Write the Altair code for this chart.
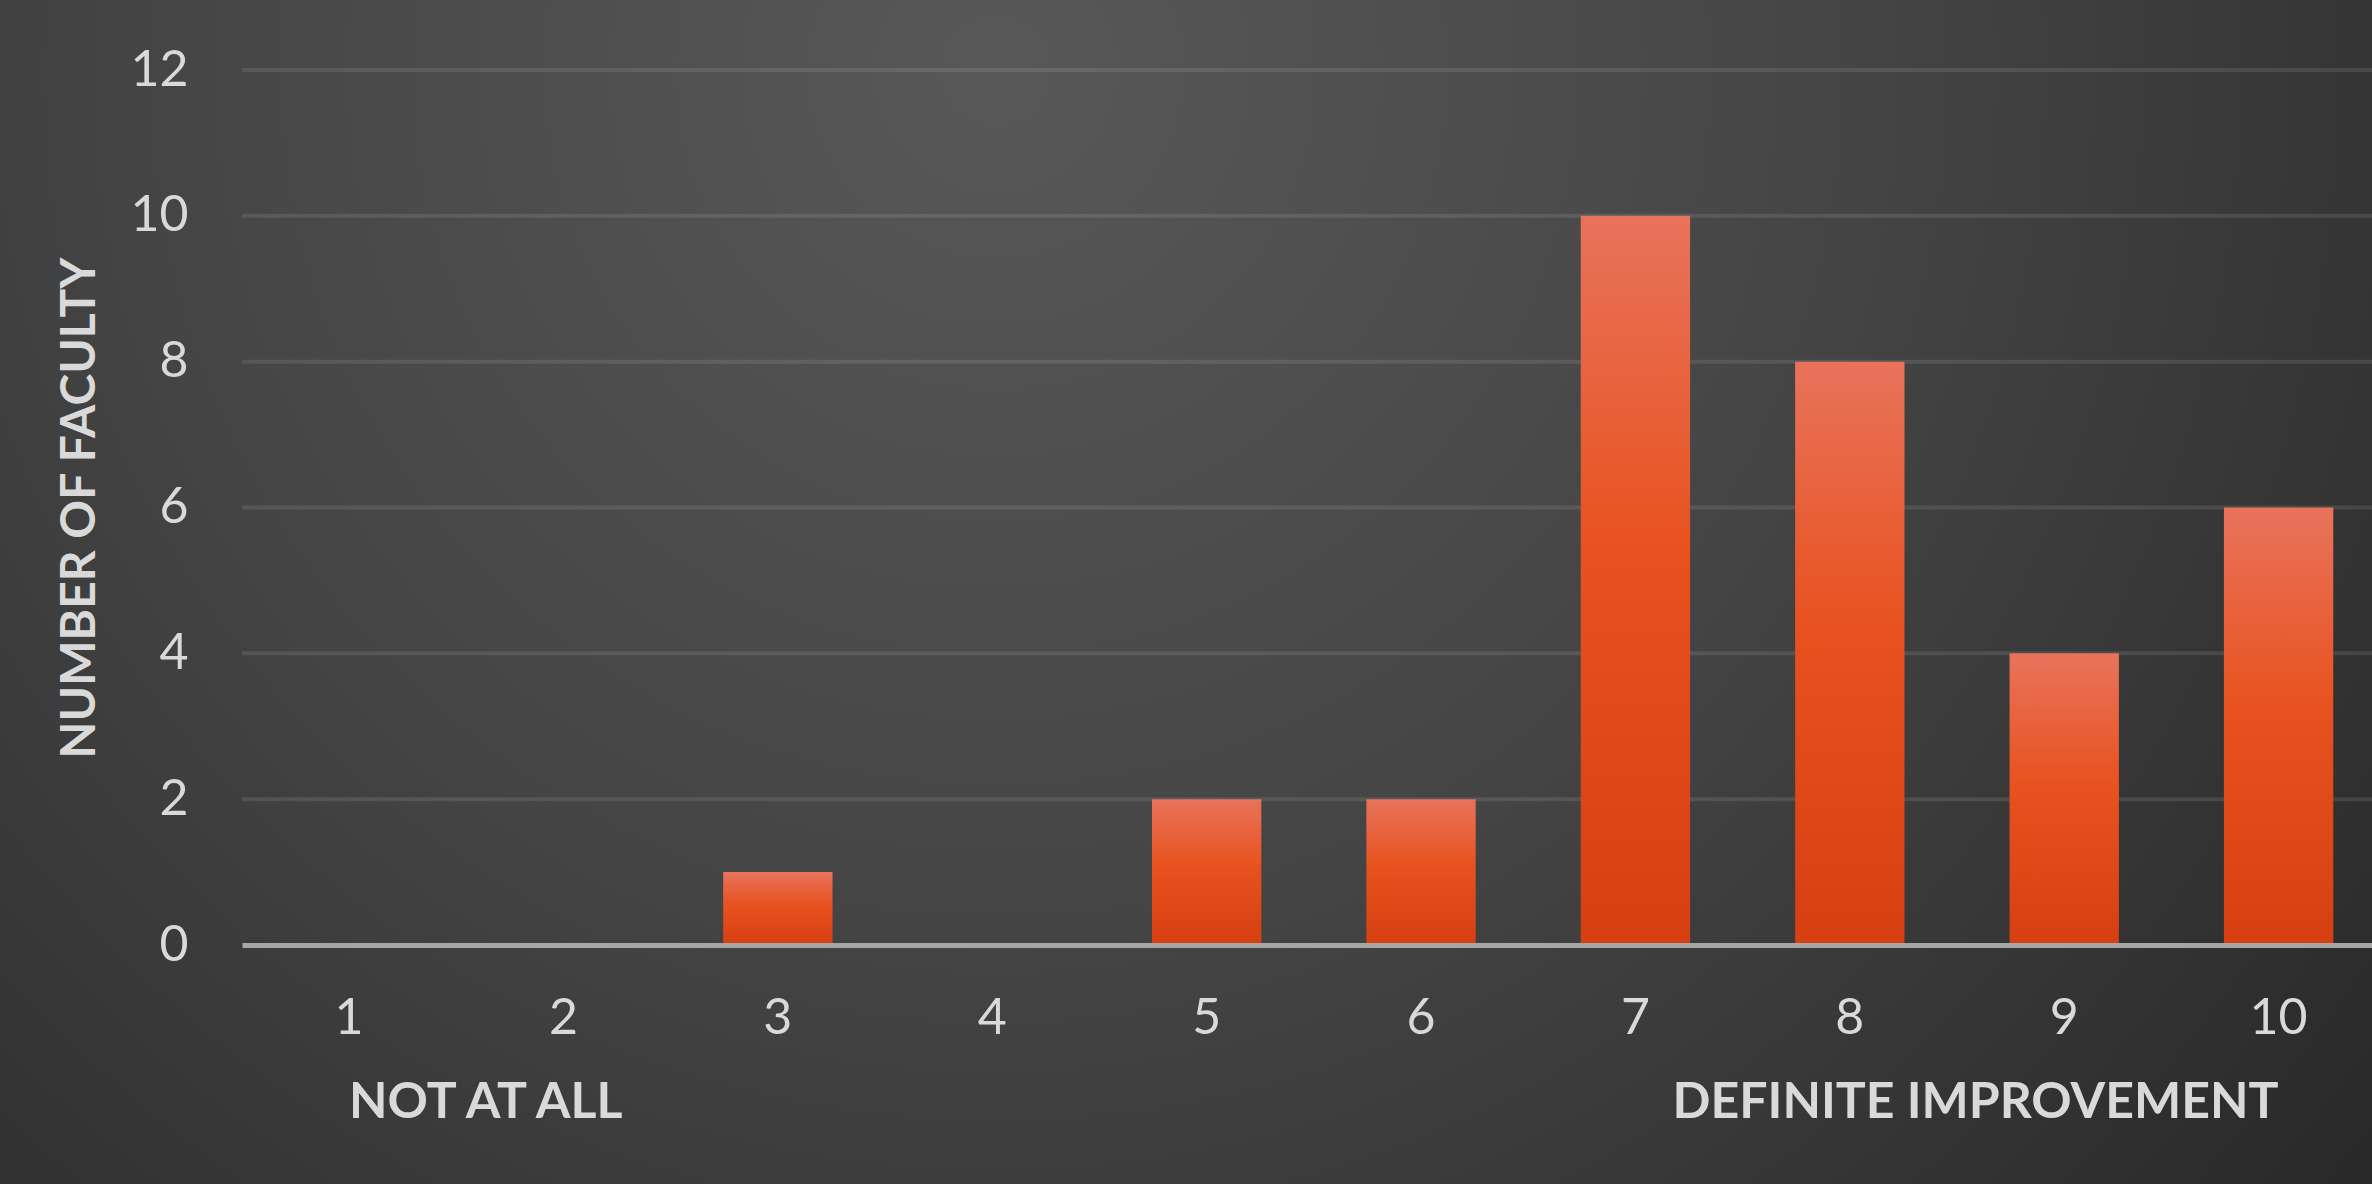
import altair as alt
import pandas as pd

# ---- data ----
scores = ["1", "2", "3", "4", "5", "6", "7", "8", "9", "10"]
counts = [0, 0, 1, 0, 2, 2, 10, 8, 4, 6]
y_ticks = [0, 2, 4, 6, 8, 10, 12]
grid_values = [2, 4, 6, 8, 10, 12]
y_title = "NUMBER OF FACULTY"
low_label = "NOT AT ALL"
high_label = "DEFINITE IMPROVEMENT"

# ---- layout / style ----
W, H = 2130, 875
PAD_L, PAD_T, PAD_B = 242, 70, 239
FONT = "Lato"
TXT = "#d9d9d9"
FS = 50

bars_df = pd.DataFrame({"score": scores, "count": counts})
grid_df = pd.DataFrame({"count": grid_values})
bg_df = pd.DataFrame({"k": [0]})
low_df = pd.DataFrame({"score": [scores[0]], "label": [low_label]})
high_df = pd.DataFrame({"score": [scores[-1]], "label": [high_label]})

x_scale = alt.Scale(domain=scores, paddingInner=0.49, paddingOuter=0.2125, align=0.575)
y_scale = alt.Scale(domain=[0, 12], nice=False)

x_axis = alt.Axis(
    title=None, labelFont=FONT, labelFontSize=FS, labelColor=TXT, labelAngle=0,
    ticks=False, tickSize=0, domain=True, domainColor="#a6a6a6", domainWidth=5,
    labelPadding=73, labelBaseline="middle", grid=False, zindex=1,
)
y_axis = alt.Axis(
    values=y_ticks, grid=False, domain=False, ticks=False, tickSize=0,
    labelFont=FONT, labelFontSize=FS, labelColor=TXT, labelPadding=54,
    title=y_title, titleFont=FONT, titleFontSize=48, titleFontWeight="bold",
    titleColor=TXT, titleX=-162, titleY=H / 2, titleAngle=270,
    titleAlign="center", titleBaseline="middle", zindex=1,
)

bg = alt.Chart(bg_df).mark_rect(
    fill=alt.RadialGradient(
        gradient="radial",
        stops=[
            alt.GradientStop(color="#585858", offset=0),
            alt.GradientStop(color="#444444", offset=0.5),
            alt.GradientStop(color="#292929", offset=1),
        ],
        x1=0.42, y1=0.28, r1=0, x2=0.42, y2=0.28, r2=0.74,
    )
).encode(
    x=alt.value(-PAD_L), x2=alt.value(W),
    y=alt.value(-PAD_T), y2=alt.value(H + PAD_B),
)

grid = alt.Chart(grid_df).mark_rule(color="#ffffff", opacity=0.1, strokeWidth=4).encode(
    y=alt.Y("count:Q", scale=y_scale, axis=y_axis),
    x=alt.value(0), x2=alt.value(W),
)

bars = alt.Chart(bars_df).mark_bar(
    fill=alt.LinearGradient(
        gradient="linear",
        stops=[
            alt.GradientStop(color="#e8735b", offset=0),
            alt.GradientStop(color="#e8521f", offset=0.45),
            alt.GradientStop(color="#d63f10", offset=1),
        ],
        x1=0, x2=0, y1=0, y2=1,
    )
).encode(
    x=alt.X("score:N", sort=scores, scale=x_scale, axis=x_axis),
    y=alt.Y("count:Q", scale=y_scale, axis=y_axis),
)

low_text = alt.Chart(low_df).mark_text(
    align="left", baseline="middle", font=FONT, fontSize=FS, fontWeight="bold", color=TXT
).encode(
    x=alt.X("score:N", sort=scores, scale=x_scale, axis=x_axis),
    y=alt.value(1033),
    text="label:N",
)

high_text = alt.Chart(high_df).mark_text(
    align="right", baseline="middle", font=FONT, fontSize=FS, fontWeight="bold", color=TXT
).encode(
    x=alt.X("score:N", sort=scores, scale=x_scale, axis=x_axis),
    y=alt.value(1033),
    text="label:N",
)

chart = alt.layer(bg, grid, bars, low_text, high_text).properties(
    width=W, height=H,
    padding={"left": PAD_L, "top": PAD_T, "right": 0, "bottom": PAD_B},
    autosize=alt.AutoSizeParams(type="none"),
).configure(background="#2e2e2e").configure_view(strokeWidth=0)

chart.save("out.html", embed_options={"renderer": "svg", "actions": False})
